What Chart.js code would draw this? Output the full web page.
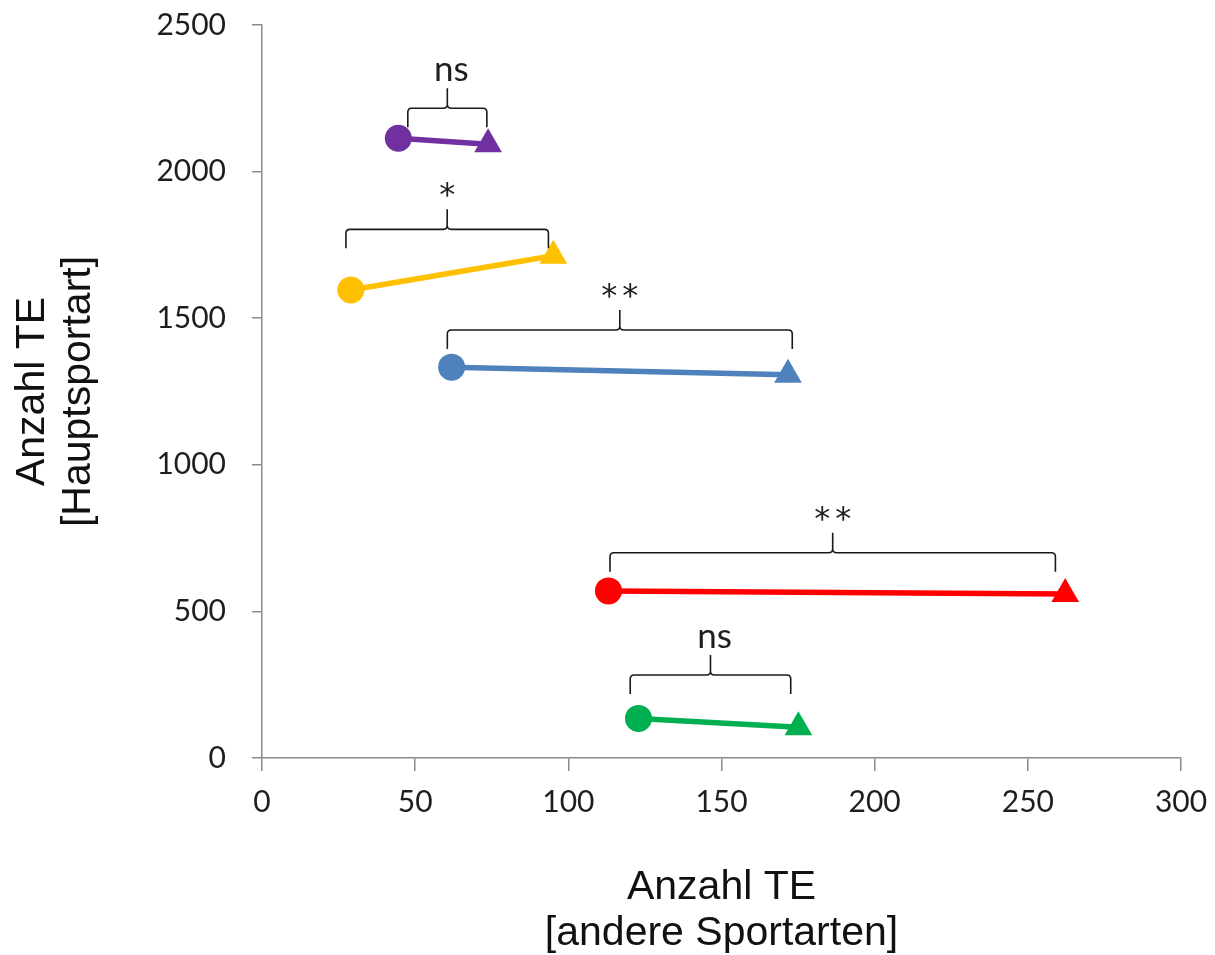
<!DOCTYPE html>
<html>
<head>
<meta charset="utf-8">
<script src="https://cdn.jsdelivr.net/npm/chart.js@4.4.1/dist/chart.umd.min.js"></script>
<style>
html,body{margin:0;padding:0;background:#fff;}
#wrap{width:1215px;height:955px;position:relative;}
</style>
</head>
<body>
<div id="wrap"><canvas id="c"></canvas></div>
<script>
// ---- data ----
const groups = ['Gruppe 1', 'Gruppe 2', 'Gruppe 3', 'Gruppe 4', 'Gruppe 5'];
const startX = [44.5, 29.0, 61.9, 113.1, 122.9];
const startY = [2114, 1596, 1333, 570, 135];
const endX = [73.8, 95.1, 171.7, 262.2, 175.1];
const endY = [2093, 1713, 1307, 559, 105];
const sigLabels = ['ns', '*', '**', '**', 'ns'];
const bracketLeft = [47.6, 27.4, 60.5, 113.6, 120.2];
const bracketRight = [73.4, 93.5, 173.1, 259.0, 172.6];
const bracketY = [2216, 1803, 1460, 700, 283];
const xTicks = [0, 50, 100, 150, 200, 250, 300];
const yTicks = [0, 500, 1000, 1500, 2000, 2500];
const xTitle = ['Anzahl TE', '[andere Sportarten]'];
const yTitle = ['Anzahl TE', '[Hauptsportart]'];

// ---- styles ----
const colors = ['#7030A0', '#FFC000', '#4F81BD', '#FF0000', '#00B050'];
const axisColor = '#8a8a8a';
const textColor = '#1e1e1e';

const bracketPlugin = {
  id: 'brackets',
  afterDatasetsDraw(chart) {
    const { ctx, scales: { x, y } } = chart;
    const leg = 19, tip = 20, r = 4;
    ctx.save();
    ctx.strokeStyle = '#1a1a1a';
    ctx.lineWidth = 1.6;
    ctx.lineJoin = 'round';
    bracketLeft.forEach((bl, i) => {
      const x1 = x.getPixelForValue(bl);
      const x2 = x.getPixelForValue(bracketRight[i]);
      const yy = y.getPixelForValue(bracketY[i]);
      const xm = (x1 + x2) / 2;
      ctx.beginPath();
      ctx.moveTo(x1, yy + leg);
      ctx.lineTo(x1, yy + r);
      ctx.quadraticCurveTo(x1, yy, x1 + r, yy);
      ctx.lineTo(xm - r, yy);
      ctx.quadraticCurveTo(xm, yy, xm, yy - r);
      ctx.lineTo(xm, yy - tip);
      ctx.moveTo(xm, yy - r);
      ctx.quadraticCurveTo(xm, yy, xm + r, yy);
      ctx.lineTo(x2 - r, yy);
      ctx.quadraticCurveTo(x2, yy, x2, yy + r);
      ctx.lineTo(x2, yy + leg);
      ctx.stroke();
      const isStar = sigLabels[i].charAt(0) === '*';
      ctx.fillStyle = textColor;
      ctx.textAlign = 'center';
      ctx.textBaseline = 'alphabetic';
      if (isStar) {
        ctx.font = '32px "DejaVu Sans"';
        ctx.letterSpacing = '5px';
        ctx.fillText(sigLabels[i], xm + 2.5, yy - tip - 4);
      } else {
        ctx.font = '35px Lato';
        ctx.letterSpacing = '0px';
        ctx.fillText(sigLabels[i], xm + 4, yy - tip - 7);
      }
    });
    ctx.restore();
  }
};

new Chart(document.getElementById('c'), {
  type: 'scatter',
  data: {
    datasets: groups.map((g, i) => ({
      label: g,
      data: [{ x: startX[i], y: startY[i] }, { x: endX[i], y: endY[i] }],
      showLine: true,
      borderColor: colors[i],
      backgroundColor: colors[i],
      borderWidth: 5.5,
      pointStyle: ['circle', 'triangle'],
      pointRadius: [13.5, 16],
      pointHoverRadius: [13.5, 16],
      pointBorderWidth: 0
    }))
  },
  options: {
    responsive: true,
    maintainAspectRatio: false,
    animation: false,
    layout: { padding: { left: 0, right: 34, top: 25, bottom: 0 } },
    plugins: { legend: { display: false }, tooltip: { enabled: false } },
    scales: {
      x: {
        type: 'linear', position: 'bottom', min: 0, max: 300,
        afterBuildTicks: s => { s.ticks = xTicks.map(v => ({ value: v })); },
        afterFit: s => { s.height = 197; s.paddingLeft = 0; s.paddingRight = 0; },
        grid: { drawOnChartArea: false, drawTicks: true, tickLength: 13, color: axisColor, lineWidth: 1.5 },
        border: { display: true, color: axisColor, width: 1.5 },
        ticks: { font: { family: 'Lato', size: 30 }, color: textColor, padding: 13, maxRotation: 0, autoSkip: false, callback: v => String(v) },
        title: { display: true, text: xTitle, color: '#111', font: { family: 'Liberation Sans', size: 41, lineHeight: 1.12 }, padding: { top: 0, bottom: -2 } }
      },
      y: {
        type: 'linear', position: 'left', min: 0, max: 2500,
        afterBuildTicks: s => { s.ticks = yTicks.map(v => ({ value: v })); },
        afterFit: s => { s.width = 262; s.paddingTop = 0; s.paddingBottom = 0; },
        grid: { drawOnChartArea: false, drawTicks: true, tickLength: 10, color: axisColor, lineWidth: 1.5 },
        border: { display: true, color: axisColor, width: 1.5 },
        ticks: { font: { family: 'Lato', size: 30 }, color: textColor, padding: 26, autoSkip: false, callback: v => String(v) },
        title: { display: true, text: yTitle, color: '#111', font: { family: 'Liberation Sans', size: 41, lineHeight: 1.12 }, padding: { top: 10, bottom: 0 } }
      }
    }
  },
  plugins: [bracketPlugin]
});
</script>
</body>
</html>
